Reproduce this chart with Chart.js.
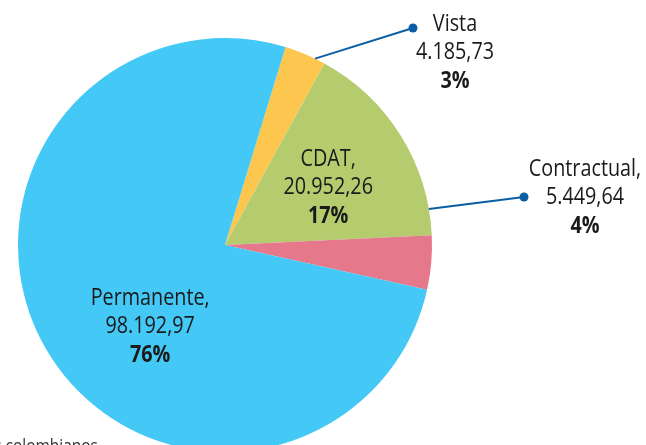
<!DOCTYPE html>
<html>
<head>
<meta charset="utf-8">
<script src="https://cdn.jsdelivr.net/npm/chart.js@4"></script>
<style>
  html, body { margin: 0; padding: 0; background: #fff; overflow: hidden; }
  #wrap { width: 646px; height: 445px; overflow: hidden; position: relative; }
</style>
</head>
<body>
<div id="wrap">
  <canvas id="pie" width="646" height="490"></canvas>
</div>
<script>
// Data
const categories = ["Vista", "CDAT", "Contractual", "Permanente"];
const amounts = [4185.73, 20952.26, 5449.64, 98192.97];
const amountText = ["4.185,73", "20.952,26", "5.449,64", "98.192,97"];
const percentText = ["3%", "17%", "4%", "76%"];
const labelNames = ["Vista", "CDAT,", "Contractual,", "Permanente,"];
const colors = ["#FDC64F", "#B5CC6E", "#E5788B", "#44C8F5"];

const FONT = "'Open Sans', 'Noto Sans', sans-serif";

// draw the labels, leader lines and the bottom note
const labelPlugin = {
  id: "labels",
  afterDraw(chart) {
    const ctx = chart.ctx;
    const arc = chart.getDatasetMeta(0).data[0];
    const cx = arc.x, cy = arc.y, r = arc.outerRadius;

    function pt(deg, f) {
      const a = (deg - 90) * Math.PI / 180;
      return [cx + Math.cos(a) * r * f, cy + Math.sin(a) * r * f];
    }

    // condensed look: squeeze the text a bit horizontally
    function narrowText(txt, x, y) {
      ctx.save();
      ctx.translate(x, y);
      ctx.scale(0.86, 1);
      ctx.fillText(txt, 0, 0);
      ctx.restore();
    }

    function block(i, x, y) {
      ctx.fillStyle = "#1a1a1a";
      ctx.textAlign = "center";
      ctx.textBaseline = "middle";
      ctx.font = "400 23px " + FONT;
      narrowText(labelNames[i], x, y);
      narrowText(amountText[i], x, y + 28);
      ctx.font = "bold 23px " + FONT;
      narrowText(percentText[i], x, y + 57);
    }

    function leader(deg, dx, dy) {
      const s = pt(deg, 1.0);
      ctx.strokeStyle = "#0B5EA3";
      ctx.lineWidth = 2;
      ctx.beginPath();
      ctx.moveTo(s[0], s[1]);
      ctx.lineTo(cx + dx, cy + dy);
      ctx.stroke();
      ctx.fillStyle = "#0B5EA3";
      ctx.beginPath();
      ctx.arc(cx + dx, cy + dy, 4.5, 0, Math.PI * 2);
      ctx.fill();
    }

    ctx.save();
    // inside labels
    let p = pt(61, 0.57);
    block(1, p[0], p[1] - 28);
    p = pt(223, 0.53);
    block(3, p[0], p[1] - 27);

    // outside labels
    leader(25.8, 188, -217);
    block(0, cx + 230, cy - 221);
    leader(80, 299, -48);
    block(2, cx + 360, cy - 76);

    // note at the bottom, cut off on the left
    ctx.font = "18px " + FONT;
    ctx.fillStyle = "#333";
    ctx.textAlign = "right";
    ctx.textBaseline = "alphabetic";
    narrowText("Cifras en millones de pesos colombianos", 98, 452);
    ctx.restore();
  }
};

new Chart(document.getElementById("pie").getContext("2d"), {
  type: "pie",
  data: {
    labels: categories,
    datasets: [{
      data: amounts,
      backgroundColor: colors,
      borderWidth: 0
    }]
  },
  options: {
    responsive: false,
    animation: false,
    rotation: 17,
    layout: { padding: { left: 18, right: 214, top: 38, bottom: 38 } },
    plugins: {
      legend: { display: false },
      tooltip: { enabled: false }
    }
  },
  plugins: [labelPlugin]
});
</script>
</body>
</html>
